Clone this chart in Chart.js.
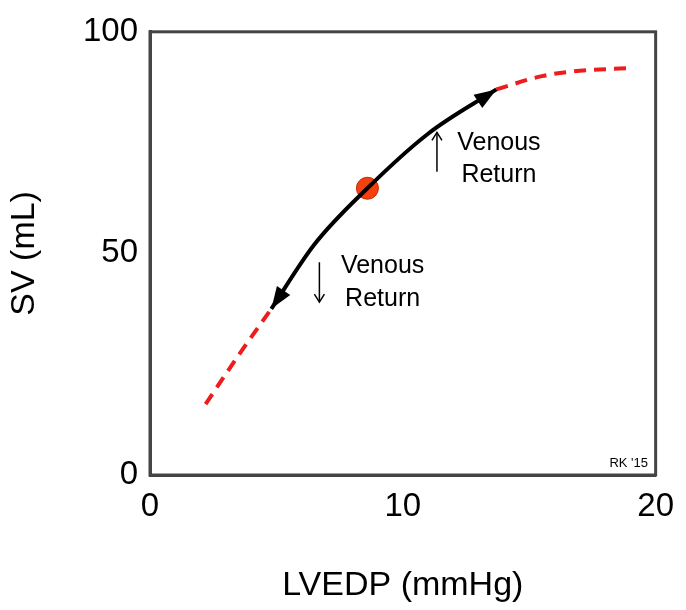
<!DOCTYPE html>
<html>
<head>
<meta charset="utf-8">
<script src="https://cdn.jsdelivr.net/npm/chart.js@4"></script>
<style>
  body { margin: 0; background: #fff; }
  #wrap { width: 686px; height: 610px; }
</style>
</head>
<body>
<div id="wrap"><canvas id="curve"></canvas></div>
<script>
// Frank-Starling curve
const lowX = [2.2, 3.5, 4.8];
const lowY = [16, 27, 37.5];
const midX = [4.8, 6.5, 8.6, 11, 13.7];
const midY = [37.5, 52, 64.7, 77, 87];
const highX = [13.7, 15.5, 17, 19];
const highY = [87, 90, 91.2, 91.8];
const pointX = [8.6];
const pointY = [64.7];
const xTicks = [0, 10, 20];
const yTicks = [0, 50, 100];

const pts = (xs, ys) => xs.map((x, i) => ({ x, y: ys[i] }));
const font = "'Liberation Sans', Arial, sans-serif";

const extras = {
  id: "extras",
  afterDatasetsDraw(chart) {
    const ctx = chart.ctx;
    const xs = chart.scales.x, ys = chart.scales.y;
    const meta = chart.getDatasetMeta(1).data;
    const ds = chart.data.datasets[1].data;
    // arrowheads at both ends of the black segment, direction from the curve's ends
    const head = (tip, from) => {
      const a = Math.atan2(tip.y - from.y, tip.x - from.x);
      const L = 22, W = 8;
      ctx.save();
      ctx.fillStyle = "#000";
      ctx.beginPath();
      ctx.moveTo(tip.x, tip.y);
      ctx.lineTo(tip.x - L * Math.cos(a) + W * Math.sin(a), tip.y - L * Math.sin(a) - W * Math.cos(a));
      ctx.lineTo(tip.x - L * Math.cos(a) - W * Math.sin(a), tip.y - L * Math.sin(a) + W * Math.cos(a));
      ctx.closePath();
      ctx.fill();
      ctx.restore();
    };
    const n = meta.length - 1;
    head(meta[n], { x: meta[n].cp1x ?? meta[n - 1].x, y: meta[n].cp1y ?? meta[n - 1].y });
    head(meta[0], { x: meta[0].cp2x ?? meta[1].x, y: meta[0].cp2y ?? meta[1].y });

    ctx.save();
    ctx.fillStyle = "#000";
    ctx.font = "25px " + font;
    ctx.textAlign = "center";
    ctx.fillText("Venous", xs.getPixelForValue(13.8), ys.getPixelForValue(73.3));
    ctx.fillText("Return", xs.getPixelForValue(13.8), ys.getPixelForValue(66.2));
    ctx.fillText("Venous", xs.getPixelForValue(9.2), ys.getPixelForValue(45.5));
    ctx.fillText("Return", xs.getPixelForValue(9.2), ys.getPixelForValue(38.2));
    // small vertical arrows
    const varrow = (x, y0, y1) => {
      const px = xs.getPixelForValue(x), p0 = ys.getPixelForValue(y0), p1 = ys.getPixelForValue(y1);
      ctx.strokeStyle = "#000"; ctx.lineWidth = 1.5;
      ctx.beginPath(); ctx.moveTo(px, p0); ctx.lineTo(px, p1); ctx.stroke();
      const d = p1 > p0 ? -1 : 1;
      ctx.beginPath();
      ctx.moveTo(px - 5, p1 + d * 8); ctx.lineTo(px, p1); ctx.lineTo(px + 5, p1 + d * 8);
      ctx.stroke();
    };
    varrow(11.35, 68.4, 77.3);
    varrow(6.7, 48, 39);
    ctx.font = "13px " + font;
    ctx.textAlign = "right";
    ctx.fillText("RK '15", xs.getPixelForValue(19.7), ys.getPixelForValue(1.8));
    ctx.restore();
  }
};

new Chart(document.getElementById("curve"), {
  type: "scatter",
  data: {
    datasets: [
      { data: pts(lowX, lowY), showLine: true, borderColor: "#ee1c1c", borderWidth: 4, borderDash: [12, 8], pointRadius: 0, cubicInterpolationMode: "monotone" },
      { data: pts(midX, midY), showLine: true, borderColor: "#000", borderWidth: 4, pointRadius: 0, cubicInterpolationMode: "monotone" },
      { data: pts(highX, highY), showLine: true, borderColor: "#ee1c1c", borderWidth: 4, borderDash: [12, 8], pointRadius: 0, cubicInterpolationMode: "monotone" },
      { data: pts(pointX, pointY), pointRadius: 11, pointBackgroundColor: "#f4400f", pointBorderColor: "#c02a00", pointBorderWidth: 1 }
    ]
  },
  options: {
    responsive: true,
    maintainAspectRatio: false,
    animation: false,
    layout: { padding: { top: 22, right: 30, left: 0, bottom: 0 } },
    plugins: { legend: { display: false }, tooltip: { enabled: false } },
    scales: {
      x: {
        min: 0, max: 20,
        afterFit: s => { s.height = 135; },
        afterBuildTicks: s => { s.ticks = xTicks.map(v => ({ value: v })); },
        grid: { display: false, drawTicks: false },
        border: { color: "#444", width: 3 },
        ticks: { color: "#000", font: { family: font, size: 33 }, padding: 12 },
        title: { display: true, text: "LVEDP (mmHg)", color: "#000", font: { family: font, size: 34 }, padding: { top: 0 } }
      },
      y: {
        min: 0, max: 100,
        afterFit: s => { s.width = 150; },
        afterBuildTicks: s => { s.ticks = yTicks.map(v => ({ value: v })); },
        grid: { display: false, drawTicks: false },
        border: { color: "#444", width: 3 },
        ticks: { color: "#000", font: { family: font, size: 33 }, padding: 12 },
        title: { display: true, text: "SV (mL)", color: "#000", font: { family: font, size: 34 }, padding: { bottom: 0 } }
      }
    }
  },
  plugins: [extras, {
    id: "frame",
    afterDraw(chart) {
      const a = chart.chartArea, ctx = chart.ctx;
      ctx.save();
      ctx.strokeStyle = "#444"; ctx.lineWidth = 3;
      ctx.strokeRect(a.left, a.top, a.right - a.left, a.bottom - a.top);
      ctx.restore();
    }
  }]
});
</script>
</body>
</html>
